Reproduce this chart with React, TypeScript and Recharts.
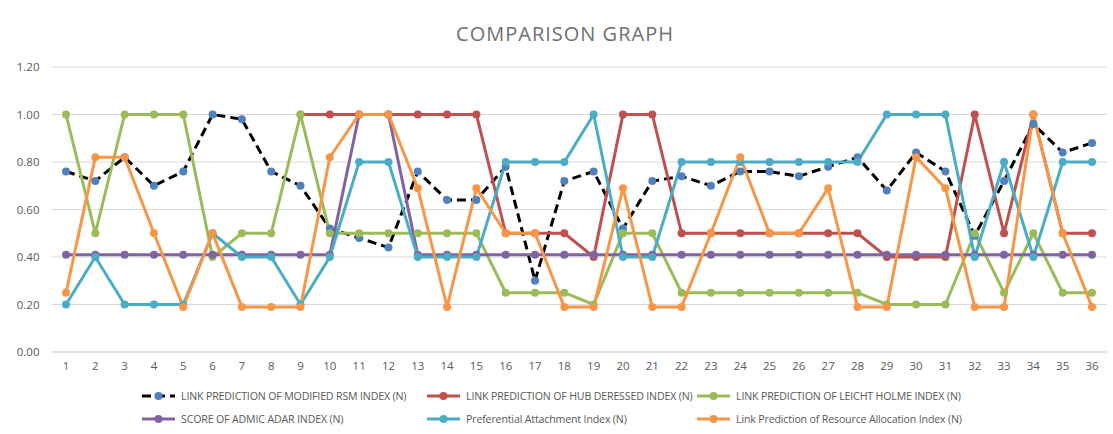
import { LineChart, Line, XAxis, YAxis, CartesianGrid } from 'recharts';

const CATEGORIES = [
  '1', '2', '3', '4', '5', '6', '7', '8', '9', '10', '11', '12',
  '13', '14', '15', '16', '17', '18', '19', '20', '21', '22', '23', '24',
  '25', '26', '27', '28', '29', '30', '31', '32', '33', '34', '35', '36',
];

const RSM = [
  0.76, 0.72, 0.82, 0.7, 0.76, 1.0, 0.98, 0.76, 0.7, 0.52, 0.48, 0.44,
  0.76, 0.64, 0.64, 0.78, 0.3, 0.72, 0.76, 0.52, 0.72, 0.74, 0.7, 0.76,
  0.76, 0.74, 0.78, 0.82, 0.68, 0.84, 0.76, 0.49, 0.72, 0.96, 0.84, 0.88,
];
const HUB = [
  null, null, null, null, null, null, null, null, 1, 1, 1, 1,
  1, 1, 1, 0.5, 0.5, 0.5, 0.4, 1, 1, 0.5, 0.5, 0.5,
  0.5, 0.5, 0.5, 0.5, 0.4, 0.4, 0.4, 1, 0.5, 1, 0.5, 0.5,
];
const LEICHT = [
  1, 0.5, 1, 1, 1, 0.4, 0.5, 0.5, 1, 0.5, 0.5, 0.5,
  0.5, 0.5, 0.5, 0.25, 0.25, 0.25, 0.2, 0.5, 0.5, 0.25, 0.25, 0.25,
  0.25, 0.25, 0.25, 0.25, 0.2, 0.2, 0.2, 0.5, 0.25, 0.5, 0.25, 0.25,
];
const ADAMIC = [
  0.41, 0.41, 0.41, 0.41, 0.41, 0.41, 0.41, 0.41, 0.41, 0.41, 1, 1,
  0.41, 0.41, 0.41, 0.41, 0.41, 0.41, 0.41, 0.41, 0.41, 0.41, 0.41, 0.41,
  0.41, 0.41, 0.41, 0.41, 0.41, 0.41, 0.41, 0.41, 0.41, 0.41, 0.41, 0.41,
];
const PREF = [
  0.2, 0.4, 0.2, 0.2, 0.2, 0.5, 0.4, 0.4, 0.2, 0.4, 0.8, 0.8,
  0.4, 0.4, 0.4, 0.8, 0.8, 0.8, 1, 0.4, 0.4, 0.8, 0.8, 0.8,
  0.8, 0.8, 0.8, 0.8, 1, 1, 1, 0.4, 0.8, 0.4, 0.8, 0.8,
];
const RESOURCE = [
  0.25, 0.82, 0.82, 0.5, 0.19, 0.5, 0.19, 0.19, 0.19, 0.82, 1, 1,
  0.69, 0.19, 0.69, 0.5, 0.5, 0.19, 0.19, 0.69, 0.19, 0.19, 0.5, 0.82,
  0.5, 0.5, 0.69, 0.19, 0.19, 0.82, 0.69, 0.19, 0.19, 1, 0.5, 0.19,
];

const Y_TICKS = [0, 0.2, 0.4, 0.6, 0.8, 1.0, 1.2];

const SERIES = [
  { key: 'rsm', name: 'LINK PREDICTION OF MODIFIED RSM INDEX (N)', values: RSM, color: '#000000', dot: '#4f81bd', dash: '9 5' },
  { key: 'hub', name: 'LINK PREDICTION OF HUB DERESSED INDEX (N)', values: HUB, color: '#c0504d', dot: '#c0504d' },
  { key: 'leicht', name: 'LINK PREDICTION OF LEICHT HOLME INDEX (N)', values: LEICHT, color: '#9bbb59', dot: '#9bbb59' },
  { key: 'adamic', name: 'SCORE OF ADMIC ADAR INDEX (N)', values: ADAMIC, color: '#8064a2', dot: '#8064a2' },
  { key: 'pref', name: 'Preferential Attachment Index (N)', values: PREF, color: '#4bacc6', dot: '#4bacc6' },
  { key: 'resource', name: 'Link Prediction of Resource Allocation Index (N)', values: RESOURCE, color: '#f79646', dot: '#f79646' },
];

const data = CATEGORIES.map((c, i) => {
  const row: any = { name: c };
  SERIES.forEach((s) => (row[s.key] = s.values[i]));
  return row;
});

const FONT = '"Open Sans", sans-serif';
const GREY = '#595959';
const LEGEND_COLS = [142, 427, 697];

function ChartLegend() {
  return (
    <svg width={1113} height={50} style={{ position: 'absolute', left: 0, top: 385 }}>
      {SERIES.map((s, i) => {
        const x = LEGEND_COLS[i % 3];
        const y = 11 + Math.floor(i / 3) * 23;
        return (
          <g key={s.key}>
            <line x1={x} x2={x + 33} y1={y} y2={y} stroke={s.color} strokeWidth={3} strokeDasharray={s.dash} />
            <circle cx={x + 16.5} cy={y} r={4} fill={s.dot} />
            <text
              x={x + 39}
              y={y}
              dominantBaseline="central"
              fontFamily={FONT}
              fontSize={10.6}
              letterSpacing={-0.15}
              fill={GREY}
            >
              {s.name}
            </text>
          </g>
        );
      })}
    </svg>
  );
}

export default function App() {
  return (
    <div style={{ position: 'absolute', left: 0, top: 0, width: 1113, height: 434, background: '#fff' }}>
      <div
        style={{
          position: 'absolute', top: 22, left: 365, width: 400, textAlign: 'center',
          fontFamily: FONT, fontSize: 20, letterSpacing: 1, color: '#707070', lineHeight: '24px',
        }}
      >
        COMPARISON GRAPH
      </div>
      <LineChart width={1113} height={434} data={data} margin={{ top: 67, right: 6.5, bottom: 52, left: 0 }}>
        <CartesianGrid vertical={false} stroke="#d9d9d9" />
        <XAxis
          dataKey="name"
          axisLine={{ stroke: '#d9d9d9' }}
          tickLine={false}
          tickSize={0}
          tickMargin={10}
          interval={0}
          height={30}
          padding={{ left: 14.5, right: 14.5 }}
          tick={{ fontFamily: FONT, fontSize: 11.5, fill: GREY }}
        />
        <YAxis
          domain={[0, 1.2]}
          ticks={Y_TICKS}
          width={51.5}
          axisLine={false}
          tickLine={false}
          tickSize={0}
          tickMargin={12}
          tickFormatter={(v: number) => v.toFixed(2)}
          tick={{ fontFamily: FONT, fontSize: 11.5, fill: GREY }}
        />
        {SERIES.map((s) => (
          <Line
            key={s.key}
            type="linear"
            dataKey={s.key}
            name={s.name}
            stroke={s.color}
            strokeWidth={3}
            strokeDasharray={s.dash}
            dot={{ r: 4, fill: s.dot, stroke: s.dot, strokeWidth: 0 }}
            activeDot={false}
            isAnimationActive={false}
          />
        ))}
      </LineChart>
      <ChartLegend />
    </div>
  );
}
